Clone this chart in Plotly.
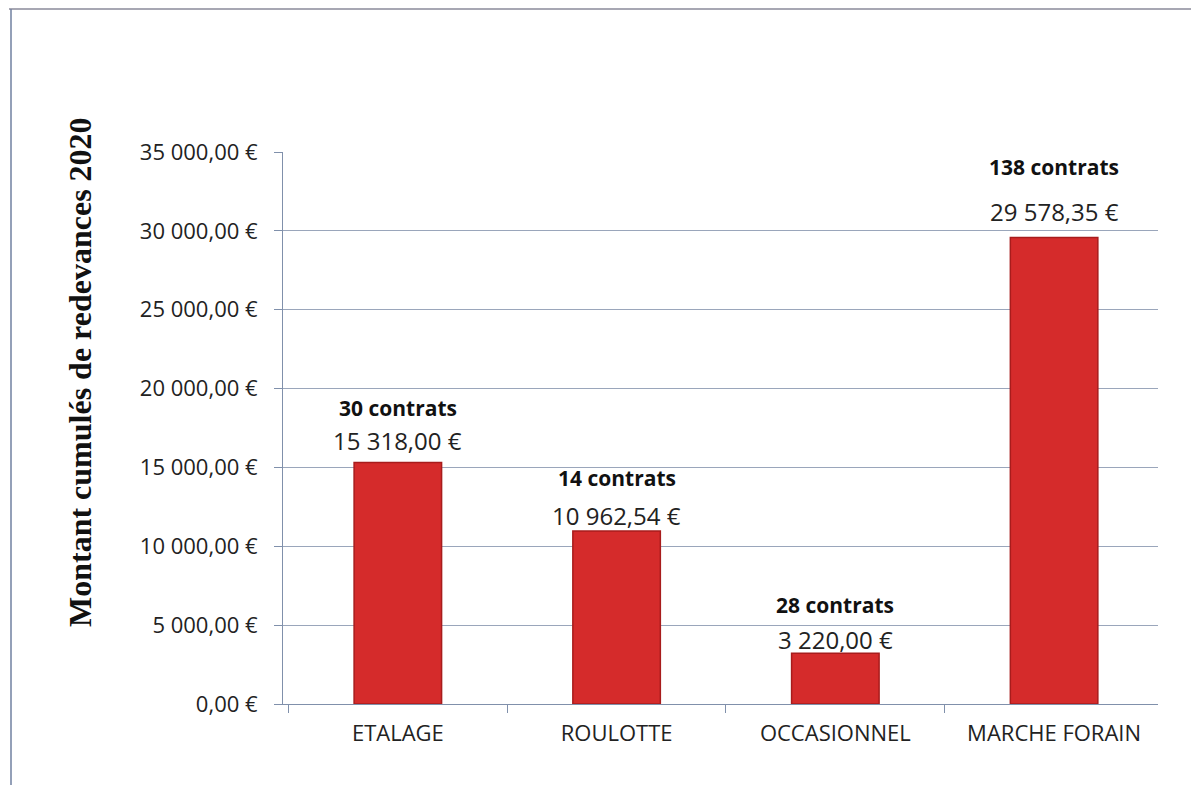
import plotly.graph_objects as go

categories = ["ETALAGE", "ROULOTTE", "OCCASIONNEL", "MARCHE FORAIN"]
values = [15318.00, 10962.54, 3220.00, 29578.35]
value_labels = ["15 318,00 €", "10 962,54 €", "3 220,00 €", "29 578,35 €"]
contracts = ["30 contrats", "14 contrats", "28 contrats", "138 contrats"]
tick_vals = [0, 5000, 10000, 15000, 20000, 25000, 30000, 35000]
tick_text = ["0,00 €", "5 000,00 €", "10 000,00 €", "15 000,00 €",
             "20 000,00 €", "25 000,00 €", "30 000,00 €", "35 000,00 €"]
y_title = "Montant cumulés de redevances 2020"

W, H = 1199, 785
L, R, T, B = 275, 49, 144, 89
PW, PH = W - L - R, H - T - B

# label placement (pixels above bar top), as in the original layout
value_shift = [22, 16, 14, 26]
contract_shift = [54, 53, 48, 71]

fig = go.Figure()
fig.add_trace(go.Bar(
    x=categories, y=values, width=0.4,
    marker=dict(color="#d52b2b", line=dict(color="#a81c1c", width=1.5)),
    hoverinfo="skip",
))

for c, v, vl, ct, vs, cs in zip(categories, values, value_labels, contracts,
                                value_shift, contract_shift):
    fig.add_annotation(x=c, y=v, text=vl, showarrow=False, yanchor="middle",
                       yshift=vs, font=dict(family="Open Sans", size=24, color="#222"))
    fig.add_annotation(x=c, y=v, text="<b>" + ct + "</b>", showarrow=False,
                       yanchor="middle", yshift=cs,
                       font=dict(family="Open Sans", size=21, color="#111"))

fig.add_annotation(xref="paper", yref="paper", x=(72 - L) / PW, y=(H - B - 364) / PH,
                   text="<b>" + y_title + "</b>", textangle=-90, showarrow=False,
                   xanchor="center", yanchor="middle",
                   font=dict(family="Liberation Serif", size=32, color="#111"))

fig.update_layout(
    width=W, height=H,
    margin=dict(l=L, r=R, t=T, b=B),
    paper_bgcolor="white", plot_bgcolor="white",
    showlegend=False,
    font=dict(family="Open Sans", color="#222"),
)
fig.update_xaxes(
    type="category", tickson="boundaries", ticks="outside", ticklen=8,
    tickcolor="#8090ab", showline=True, linecolor="#8090ab", linewidth=1,
    tickfont=dict(family="Open Sans", size=22, color="#222"),
    ticklabelstandoff=10,
    range=[-0.525, 3.475], showgrid=False,
)
fig.update_yaxes(
    range=[0, 35000], tickvals=tick_vals, ticktext=tick_text,
    ticks="outside", ticklen=8, tickcolor="#8090ab",
    showline=True, linecolor="#8090ab", linewidth=1,
    showgrid=True, gridcolor="#9aa6bb", gridwidth=1,
    tickfont=dict(family="Open Sans", size=22, color="#222"),
    ticklabelstandoff=12,
)
# scanned page frame (top and left edges)
fig.add_shape(type="line", xref="paper", yref="paper",
              x0=(1 - L) / PW, x1=(W - L) / PW, y0=1 + (T - 1) / PH, y1=1 + (T - 1) / PH,
              line=dict(color="#8a8a9a", width=1.5))
fig.add_shape(type="line", xref="paper", yref="paper",
              x0=(3 - L) / PW, x1=(3 - L) / PW, y0=1 + (T - 1) / PH, y1=-B / PH,
              line=dict(color="#7080a0", width=1.5))

fig.write_html("out.html")
